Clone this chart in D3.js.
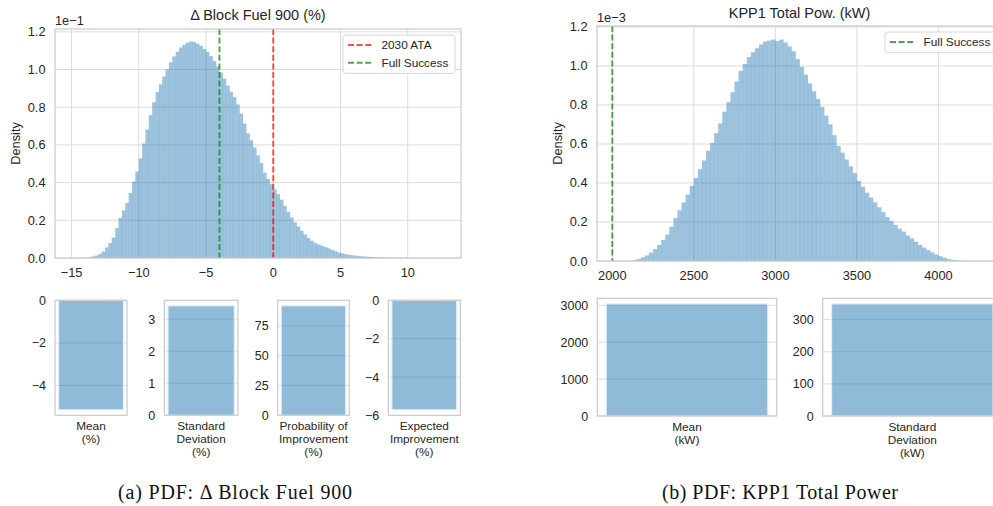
<!DOCTYPE html>
<html lang="en">
<head>
  <meta charset="UTF-8">
  <title>PDF: Block Fuel 900 and KPP1 Total Power</title>
  <script src="https://d3js.org/d3.v7.min.js"></script>
  <style>
    body {
      margin: 0;
      background: #fff;
      font-family: "Liberation Sans", Arial, sans-serif;
    }
    svg {
      display: block;
    }
  </style>
</head>
<body>
  <div id="chart"></div>

  <script>
    // Delta block fuel histogram (density in units of 1e-1)
    const fuelBinStart = -14.0;
    const fuelBinWidth = 0.25;
    const fuelDensity = [
      0.001, 0.004, 0.008, 0.013, 0.021, 0.034, 0.056, 0.079,
      0.108, 0.158, 0.212, 0.252, 0.292, 0.345, 0.405, 0.458,
      0.528, 0.607, 0.681, 0.758, 0.826, 0.879, 0.921, 0.962,
      1.001, 1.038, 1.069, 1.094, 1.116, 1.131, 1.142, 1.149,
      1.146, 1.137, 1.126, 1.109, 1.093, 1.071, 1.044, 1.016,
      0.984, 0.951, 0.914, 0.882, 0.853, 0.814, 0.766, 0.712,
      0.661, 0.624, 0.586, 0.544, 0.503, 0.452, 0.419, 0.391,
      0.364, 0.338, 0.309, 0.276, 0.244, 0.214, 0.189, 0.166,
      0.144, 0.124, 0.106, 0.091, 0.080, 0.072, 0.065, 0.058,
      0.051, 0.043, 0.036, 0.029, 0.024, 0.020, 0.017, 0.014,
      0.012, 0.010, 0.008, 0.007, 0.006, 0.005, 0.004, 0.003,
      0.002, 0.0015, 0.001, 0.0008, 0.0006, 0.0004, 0.0003, 0.0002
    ];
    const fuelTargets = [
      { label: "2030 ATA", value: 0, color: "red" },
      { label: "Full Success", value: -4, color: "green" }
    ];
    const fuelXTicks = [-15, -10, -5, 0, 5, 10];

    // KPP1 total power histogram (density in units of 1e-3)
    const powerBinStart = 2100;
    const powerBinWidth = 25;
    const powerDensity = [
      0.000, 0.004, 0.010, 0.018, 0.028, 0.042, 0.060, 0.082,
      0.108, 0.135, 0.175, 0.220, 0.260, 0.300, 0.340, 0.385,
      0.425, 0.470, 0.515, 0.565, 0.605, 0.655, 0.705, 0.765,
      0.815, 0.865, 0.920, 0.975, 1.010, 1.045, 1.070, 1.090,
      1.110, 1.125, 1.130, 1.135, 1.128, 1.135, 1.120, 1.100,
      1.075, 1.035, 0.995, 0.955, 0.910, 0.870, 0.830, 0.790,
      0.745, 0.700, 0.645, 0.590, 0.555, 0.520, 0.485, 0.450,
      0.410, 0.380, 0.350, 0.325, 0.300, 0.275, 0.250, 0.225,
      0.205, 0.185, 0.165, 0.150, 0.130, 0.115, 0.098, 0.082,
      0.068, 0.056, 0.044, 0.033, 0.024, 0.016, 0.010, 0.006,
      0.003, 0.001
    ];
    const powerTargets = [
      { label: "Full Success", value: 2000, color: "green" }
    ];
    const powerXTicks = [2000, 2500, 3000, 3500, 4000];

    const densityTicks = [0, 0.2, 0.4, 0.6, 0.8, 1.0, 1.2];

    // summary statistics bars
    const fuelStatLabels = [
      ["Mean", "(%)"],
      ["Standard", "Deviation", "(%)"],
      ["Probability of", "Improvement", "(%)"],
      ["Expected", "Improvement", "(%)"]
    ];
    const fuelStatValues = [-5.14, 3.42, 91.8, -5.7];
    const fuelStatTicks = [[0, -2, -4], [0, 1, 2, 3], [0, 25, 50, 75], [0, -2, -4, -6]];

    const powerStatLabels = [
      ["Mean", "(kW)"],
      ["Standard", "Deviation", "(kW)"]
    ];
    const powerStatValues = [3040, 349];
    const powerStatTicks = [[0, 1000, 2000, 3000], [0, 100, 200, 300]];

    const width = 993;
    const height = 506;
    const gridColor = "#dcdcdc";
    const spineColor = "#cccccc";
    const textColor = "#262626";
    const barBlue = "#1f77b4";
    const tickSize = 12.8;

    const svg = d3.select("#chart")
      .append("svg")
      .attr("width", width)
      .attr("height", height);

    function spines(g, x0, x1, y0, y1) {
      g.append("rect")
        .attr("x", x0).attr("y", y0)
        .attr("width", x1 - x0).attr("height", y1 - y0)
        .attr("fill", "none")
        .attr("stroke", spineColor)
        .attr("stroke-width", 1.25);
    }

    function histPanel(o) {
      const g = svg.append("g");
      const x = d3.scaleLinear().domain(o.xDomain).range([o.x0, o.x1]);
      const y = d3.scaleLinear().domain([0, o.yMax]).range([o.y1, o.y0]);

      const clipId = "clip" + Math.round(o.x0);
      g.append("clipPath").attr("id", clipId)
        .append("rect")
        .attr("x", o.x0).attr("y", o.y0)
        .attr("width", o.x1 - o.x0).attr("height", o.y1 - o.y0);

      // grid
      g.selectAll(".vg").data(o.xTicks).join("line")
        .attr("x1", d => x(d)).attr("x2", d => x(d))
        .attr("y1", o.y0).attr("y2", o.y1)
        .attr("stroke", gridColor).attr("stroke-width", 1);
      g.selectAll(".hg").data(densityTicks).join("line")
        .attr("x1", o.x0).attr("x2", o.x1)
        .attr("y1", d => y(d)).attr("y2", d => y(d))
        .attr("stroke", gridColor).attr("stroke-width", 1);

      // histogram bars
      g.append("g")
        .attr("clip-path", `url(#${clipId})`)
        .selectAll("rect")
        .data(o.density)
        .join("rect")
        .attr("x", (d, i) => x(o.binStart + i * o.binWidth))
        .attr("width", (d, i) => x(o.binStart + (i + 1) * o.binWidth) - x(o.binStart + i * o.binWidth))
        .attr("y", d => y(d))
        .attr("height", d => y(0) - y(d))
        .attr("fill", barBlue)
        .attr("fill-opacity", 0.44)
        .attr("stroke", barBlue)
        .attr("stroke-opacity", 0.08)
        .attr("stroke-width", 0.6);

      // target lines
      g.selectAll(".target").data(o.targets).join("line")
        .attr("x1", d => x(d.value)).attr("x2", d => x(d.value))
        .attr("y1", o.y0).attr("y2", o.y1)
        .attr("stroke", d => d.color)
        .attr("stroke-opacity", 0.7)
        .attr("stroke-width", 1.9)
        .attr("stroke-dasharray", "6,2.6");

      spines(g, o.x0, o.x1, o.y0, o.y1);

      // tick labels
      g.selectAll(".xt").data(o.xTicks).join("text")
        .attr("x", d => x(d)).attr("y", o.y1 + 19)
        .attr("text-anchor", "middle")
        .attr("font-size", tickSize)
        .attr("fill", textColor)
        .text(d3.format("d"));
      g.selectAll(".yt").data(densityTicks).join("text")
        .attr("x", o.x0 - 9.5).attr("y", d => y(d) + 4.5)
        .attr("text-anchor", "end")
        .attr("font-size", tickSize)
        .attr("fill", textColor)
        .text(d3.format(".1f"));

      g.append("text")
        .attr("x", o.x0).attr("y", o.y0 - 4)
        .attr("font-size", tickSize)
        .attr("fill", textColor)
        .text(o.offset);

      g.append("text")
        .attr("x", (o.x0 + o.x1) / 2).attr("y", o.titleY)
        .attr("text-anchor", "middle")
        .attr("font-size", 14.5)
        .attr("fill", textColor)
        .text(o.title);

      g.append("text")
        .attr("transform", `translate(${o.x0 - 35},${(o.y0 + o.y1) / 2}) rotate(-90)`)
        .attr("text-anchor", "middle")
        .attr("font-size", tickSize)
        .attr("fill", textColor)
        .text("Density");

      // legend
      const lg = g.append("g").attr("transform", `translate(${o.legendX},${o.y0 + 6})`);
      lg.append("rect")
        .attr("width", 112).attr("height", 3 + o.targets.length * 17.7)
        .attr("rx", 3)
        .attr("fill", "white").attr("fill-opacity", 0.85)
        .attr("stroke", "#d6d6d6");
      const rows = lg.selectAll(".row").data(o.targets).join("g")
        .attr("transform", (d, i) => `translate(0,${10 + i * 17.7})`);
      rows.append("line")
        .attr("x1", 5).attr("x2", 29)
        .attr("stroke", d => d.color).attr("stroke-opacity", 0.7)
        .attr("stroke-width", 1.9).attr("stroke-dasharray", "6,2.6");
      rows.append("text")
        .attr("x", 38.5).attr("y", 4.2)
        .attr("font-size", 11.8)
        .attr("fill", textColor)
        .text(d => d.label);
    }

    function statPanel(o) {
      const g = svg.append("g");
      const x = d3.scaleBand().domain([0]).range([o.x0, o.x1]).paddingInner(0).paddingOuter(0.055);
      const y = d3.scaleLinear().domain(o.yDomain).range([o.y1, o.y0]);

      g.selectAll(".hg").data(o.ticks).join("line")
        .attr("x1", o.x0).attr("x2", o.x1)
        .attr("y1", d => y(d)).attr("y2", d => y(d))
        .attr("stroke", gridColor).attr("stroke-width", 1);

      g.selectAll(".bar").data([o.value]).join("rect")
        .attr("x", x(0))
        .attr("width", x.bandwidth())
        .attr("y", d => y(Math.max(0, d)))
        .attr("height", d => Math.abs(y(d) - y(0)))
        .attr("fill", barBlue)
        .attr("fill-opacity", 0.5)
        .attr("stroke", "#e4eef7")
        .attr("stroke-width", 1.2);

      spines(g, o.x0, o.x1, o.y0, o.y1);

      g.selectAll(".yt").data(o.ticks).join("text")
        .attr("x", o.x0 - 9).attr("y", d => y(d) + 4.5)
        .attr("text-anchor", "end")
        .attr("font-size", 12.5)
        .attr("fill", textColor)
        .text(d3.format("d"));

      g.append("text")
        .attr("text-anchor", "middle")
        .attr("font-size", 11.8)
        .attr("fill", textColor)
        .selectAll("tspan").data(o.label).join("tspan")
        .attr("x", (o.x0 + o.x1) / 2)
        .attr("y", (d, i) => o.y1 + 15 + i * 12.8)
        .text(d => d);
    }

    histPanel({
      x0: 55, x1: 461, y0: 29, y1: 258,
      xDomain: [-16.23, 13.96], yMax: 1.215,
      binStart: fuelBinStart, binWidth: fuelBinWidth, density: fuelDensity,
      xTicks: fuelXTicks, targets: fuelTargets,
      title: "Δ Block Fuel 900 (%)", titleY: 20, offset: "1e−1",
      legendX: 343
    });

    histPanel({
      x0: 597, x1: 1002, y0: 26, y1: 261,
      xDomain: [1906, 4390], yMax: 1.205,
      binStart: powerBinStart, binWidth: powerBinWidth, density: powerDensity,
      xTicks: powerXTicks, targets: powerTargets,
      title: "KPP1 Total Pow. (kW)", titleY: 18, offset: "1e−3",
      legendX: 885
    });

    const fuelBoxes = [[55, 127], [164.3, 238], [277.7, 349.3], [388.3, 460.3]];
    fuelStatValues.forEach((v, i) => {
      const lo = Math.min(0, v * 1.05), hi = Math.max(0, v * 1.05);
      statPanel({
        x0: fuelBoxes[i][0], x1: fuelBoxes[i][1], y0: 300.3, y1: 415.3,
        yDomain: [lo, hi], value: v, ticks: fuelStatTicks[i], label: fuelStatLabels[i]
      });
    });

    const powerBoxes = [[597.3, 776.7], [822.7, 1002]];
    powerStatValues.forEach((v, i) => {
      statPanel({
        x0: powerBoxes[i][0], x1: powerBoxes[i][1], y0: 298.3, y1: 416,
        yDomain: [0, v * 1.05], value: v, ticks: powerStatTicks[i], label: powerStatLabels[i]
      });
    });

    // sub-figure captions
    svg.selectAll(".caption")
      .data(["(a)  PDF: Δ Block Fuel 900", "(b)  PDF: KPP1 Total Power"])
      .join("text")
      .attr("x", (d, i) => [235, 780][i])
      .attr("y", 499)
      .attr("text-anchor", "middle")
      .attr("font-family", "'Liberation Serif', 'Times New Roman', serif")
      .attr("font-size", 20)
      .attr("textLength", (d, i) => [234, 236][i])
      .attr("lengthAdjust", "spacing")
      .attr("fill", "#111")
      .text(d => d);
  </script>
</body>
</html>
